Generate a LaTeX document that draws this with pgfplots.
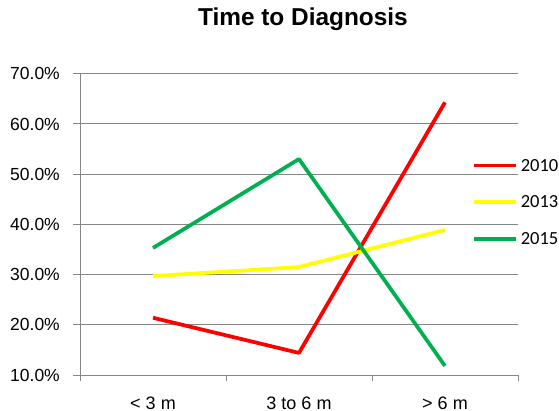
\documentclass[border=0pt]{standalone}
\usepackage{fontspec}
\setmainfont{Liberation Sans}
\newfontfamily\carlito{Carlito}
\usepackage{pgfplots}
\pgfplotsset{compat=1.18}
\definecolor{gridgray}{RGB}{134,134,134}
\definecolor{xlred}{RGB}{255,0,0}
\definecolor{xlyellow}{RGB}{255,255,0}
\definecolor{xlgreen}{RGB}{0,176,80}

\begin{document}
\begin{tikzpicture}
\begin{axis}[
  scale only axis,
  width=438pt, height=301.3pt,
  xmin=-0.5, xmax=2.5, ymin=10, ymax=70,
  axis lines*=left,
  axis line style={draw=gridgray, line width=0.9pt},
  tick align=outside,
  ytick={10,20,30,40,50,60,70},
  yticklabels={10.0\%,20.0\%,30.0\%,40.0\%,50.0\%,60.0\%,70.0\%},
  ymajorgrids,
  grid style={draw=gridgray, line width=0.9pt},
  y tick style={draw=gridgray, line width=0.9pt},
  major tick length=6.5pt,
  y tick label style={font=\fontsize{17.5}{20}\selectfont, anchor=east,
    inner sep=0pt, text height=12.3pt, text depth=0pt, xshift=-13.5pt},
  xtick={0,1,2},
  xticklabels={< 3 m, 3 to 6 m, > 6 m},
  x tick style={draw=none},
  x tick label style={font=\fontsize{18}{20}\selectfont, anchor=base,
    inner sep=0pt, yshift=-27.8pt},
  extra x ticks={-0.5,0.5,1.5,2.5},
  extra x tick labels={},
  extra x tick style={x tick style={draw=gridgray, line width=0.9pt},
    major tick length=6pt},
  title={Time to Diagnosis},
  title style={font=\fontsize{24.4}{28}\selectfont\bfseries,
    at={(axis description cs:0.509,1.139)}, anchor=base, inner sep=0pt},
  legend image code/.code={\draw[#1] (0pt,0pt) -- (42pt,0pt);},
  legend style={at={(axis description cs:0.895,0.7146)}, anchor=north west,
    draw=none, fill=none, inner sep=0pt, outer sep=0pt,
    font=\carlito\fontsize{18.5}{20}\selectfont,
    nodes={inner sep=0pt, text height=11.6pt, text depth=0pt},
    column sep=3pt, row sep=25pt},
  legend cell align=left,
  every axis plot/.append style={line width=3.75pt, line join=round},
]
\addplot[color=xlred] coordinates {(0,21.4) (1,14.4) (2,64.3)};
\addlegendentry{2010}
\addplot[color=xlyellow] coordinates {(0,29.7) (1,31.5) (2,38.9)};
\addlegendentry{2013}
\addplot[color=xlgreen] coordinates {(0,35.3) (1,53.0) (2,11.8)};
\addlegendentry{2015}
\end{axis}
\path (current axis.south west) ++(-80pt,-35pt) rectangle ++(559pt,410pt);
\end{tikzpicture}
\end{document}
